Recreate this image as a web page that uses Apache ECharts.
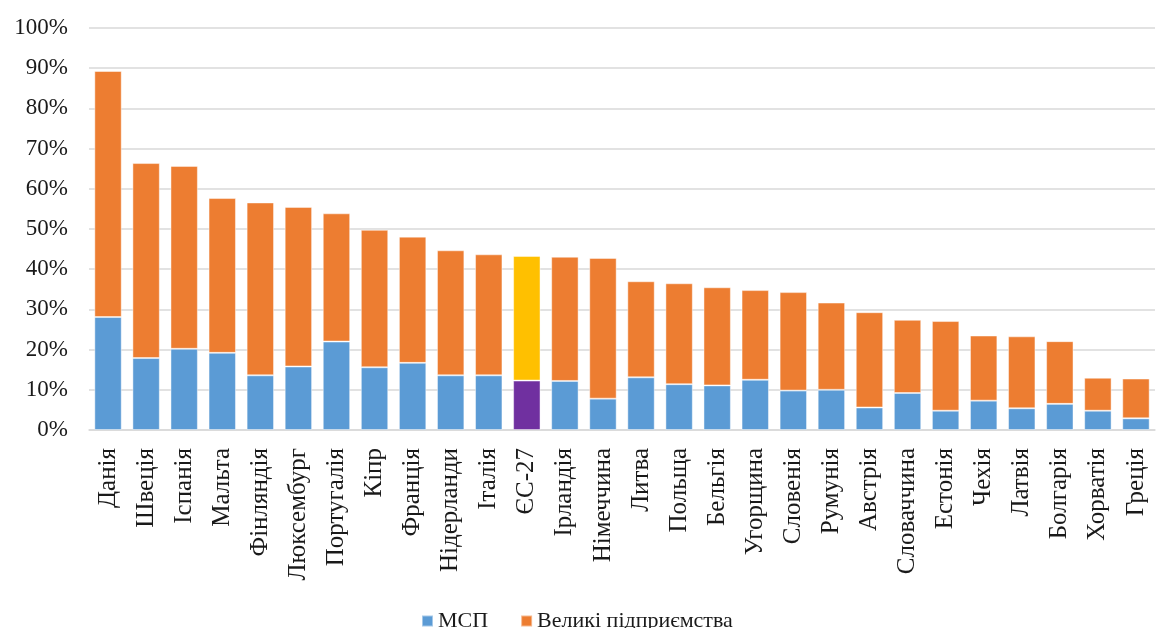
<!DOCTYPE html>
<html>
<head>
<meta charset="utf-8">
<script src="https://cdn.jsdelivr.net/npm/echarts@6/dist/echarts.min.js"></script>
<style>
  html, body { margin: 0; padding: 0; background: #fff; }
  #chart { width: 1161px; height: 628px; }
</style>
</head>
<body>
<div id="chart"></div>
<script>
const categories = ['Данія','Швеція','Іспанія','Мальта','Фінляндія','Люксембург','Португалія','Кіпр','Франція','Нідерланди','Італія','ЄС-27','Ірландія','Німеччина','Литва','Польща','Бельгія','Угорщина','Словенія','Румунія','Австрія','Словаччина','Естонія','Чехія','Латвія','Болгарія','Хорватія','Греція'];
const smeValues = [28.1,17.9,20.2,19.2,13.6,15.8,22.0,15.6,16.7,13.6,13.6,12.3,12.2,7.8,13.1,11.4,11.1,12.5,9.8,10.0,5.6,9.2,4.8,7.3,5.4,6.5,4.8,2.9];
const largeValues = [61.2,48.5,45.5,38.5,43.0,39.7,31.9,34.2,31.4,31.1,30.1,31.0,30.9,35.0,23.9,25.1,24.4,22.3,24.5,21.7,23.7,18.2,22.3,16.2,17.9,15.6,8.2,9.9];
const seriesNames = ['МСП', 'Великі підприємства'];
const highlightCategory = 'ЄС-27';

const font = 'Liberation Serif';
const textColor = '#1a1a1a';

function mkData(vals, hlColor) {
  return vals.map((v, i) => categories[i] === highlightCategory
    ? { value: v, itemStyle: { color: hlColor } }
    : v);
}

const chart = echarts.init(document.getElementById('chart'));
chart.setOption({
  animation: false,
  grid: { left: 89, right: 6, top: 28, bottom: 198 },
  legend: {
    data: seriesNames,
    left: 416, top: 605,
    itemWidth: 11, itemHeight: 11, itemGap: 32,
    icon: 'rect',
    textStyle: { fontFamily: font, fontSize: 22, color: textColor }
  },
  xAxis: {
    type: 'category',
    data: categories,
    axisLine: { lineStyle: { color: '#d9d9d9', width: 1.5 } },
    axisTick: { show: false },
    axisLabel: { rotate: 90, margin: 18, fontFamily: font, fontSize: 25, color: textColor, interval: 0 }
  },
  yAxis: {
    type: 'value', min: 0, max: 100, interval: 10,
    axisLine: { show: false }, axisTick: { show: false },
    splitLine: { lineStyle: { color: '#d9d9d9', width: 1.5 } },
    axisLabel: { formatter: '{value}%', margin: 21, fontFamily: font, fontSize: 23, color: textColor }
  },
  series: [
    {
      name: seriesNames[0], type: 'bar', stack: 'total', barWidth: '72%',
      itemStyle: { color: '#5B9BD5', borderColor: 'rgba(255,255,255,0.45)', borderWidth: 1 },
      data: mkData(smeValues, '#7030A0')
    },
    {
      name: seriesNames[1], type: 'bar', stack: 'total', barWidth: '72%',
      itemStyle: { color: '#ED7D31', borderColor: 'rgba(255,255,255,0.45)', borderWidth: 1 },
      data: mkData(largeValues, '#FFC000')
    }
  ]
});
</script>
</body>
</html>
